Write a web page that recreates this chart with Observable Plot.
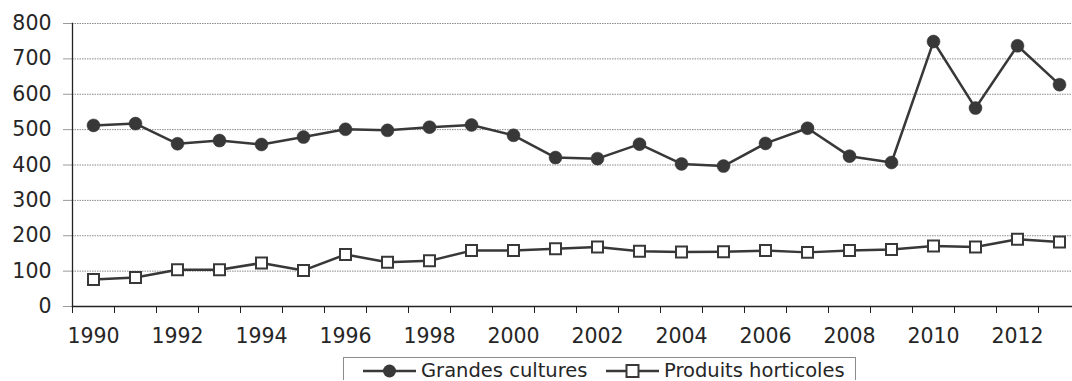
<!DOCTYPE html>
<html>
<head>
<meta charset="utf-8">
<script src="https://cdn.jsdelivr.net/npm/d3@7"></script>
<script src="https://cdn.jsdelivr.net/npm/@observablehq/plot@0.6"></script>
<style>
  html, body { margin: 0; padding: 0; background: #fff; }
  body { font-family: "DejaVu Sans", Verdana, sans-serif; color: #262626; width: 1072px; height: 381px; overflow: hidden; }
  #chart svg { display: block; }
  .legend { position: relative; margin-left: 343px; width: 513px; height: 23px; border: 1px solid #8c8c8c; border-bottom: none; font-size: 19.5px; line-height: 1; color: #262626; box-sizing: border-box; white-space: nowrap; }
  .legend .item { position: absolute; top: 3px; display: flex; align-items: center; white-space: nowrap; }
  .legend svg { display: block; flex: none; }
</style>
</head>
<body>
<div id="chart"></div>
<div class="legend" id="legend"></div>
<script>
const years = [1990,1991,1992,1993,1994,1995,1996,1997,1998,1999,2000,2001,2002,2003,2004,2005,2006,2007,2008,2009,2010,2011,2012,2013];
const grandesCultures = [512,517,460,469,458,479,501,498,507,513,484,421,418,459,403,397,461,504,425,407,749,561,737,627];
const produitsHorticoles = [76,82,104,104,123,102,147,125,129,158,158,163,168,156,154,155,158,153,158,161,171,168,190,182];
const seriesNames = ["Grandes cultures", "Produits horticoles"];
const yTicks = [0,100,200,300,400,500,600,700,800];
const xLabelYears = years.filter(y => y % 2 === 0);
const xBoundaries = years.map(y => y - 0.5);

const ink = "#383838";
const rows = [];
years.forEach((y, i) => {
  rows.push({year: y, value: grandesCultures[i], series: seriesNames[0]});
  rows.push({year: y, value: produitsHorticoles[i], series: seriesNames[1]});
});
const gc = rows.filter(d => d.series === seriesNames[0]);
const ph = rows.filter(d => d.series === seriesNames[1]);

const chart = Plot.plot({
  width: 1072,
  height: 357,
  marginLeft: 72,
  marginRight: 0,
  marginTop: 23,
  marginBottom: 51,
  style: {fontFamily: "'DejaVu Sans', Verdana, sans-serif", fontSize: "20.5px", color: "#262626", background: "#fff"},
  x: {domain: [years[0] - 0.5, years[years.length - 1] + 0.5], range: [72, 1080]},
  y: {domain: [0, 800]},
  marks: [
    Plot.ruleY(yTicks.slice(1), {stroke: "#8a8a8a", strokeWidth: 1, strokeDasharray: "1.5,1"}),
    Plot.axisY({ticks: yTicks, tickSize: 9, tickPadding: 12, stroke: "#9a9a9a", fill: "#262626", tickFormat: d => String(d), label: null, fontSize: 20.5}),
    Plot.axisX({ticks: xBoundaries, tickSize: 7, tickFormat: () => "", stroke: "#222", label: null}),
    Plot.axisX({ticks: xLabelYears, tickSize: 0, tickPadding: 22, tickFormat: d => String(d), fill: "#262626", label: null, fontSize: 20.5}),
    Plot.frame({anchor: "left", stroke: "#222", strokeWidth: 1.3}),
    Plot.frame({anchor: "bottom", stroke: "#222", strokeWidth: 1.3}),
    Plot.line(gc, {x: "year", y: "value", stroke: ink, strokeWidth: 2.5}),
    Plot.line(ph, {x: "year", y: "value", stroke: ink, strokeWidth: 2.5}),
    Plot.dot(gc, {x: "year", y: "value", r: 6.5, fill: ink, stroke: ink, strokeWidth: 0.5, symbol: "circle"}),
    Plot.dot(ph, {x: "year", y: "value", r: 6.2, fill: "#fff", stroke: ink, strokeWidth: 2, symbol: "square"})
  ]
});
document.getElementById("chart").appendChild(chart);

// Legend
const legend = document.getElementById("legend");
function symbolSvg(kind) {
  const ns = "http://www.w3.org/2000/svg";
  const s = document.createElementNS(ns, "svg");
  s.setAttribute("width", 53); s.setAttribute("height", 16);
  const l = document.createElementNS(ns, "line");
  l.setAttribute("x1", 0); l.setAttribute("x2", 53); l.setAttribute("y1", 8); l.setAttribute("y2", 8);
  l.setAttribute("stroke", ink); l.setAttribute("stroke-width", 2.5);
  s.appendChild(l);
  if (kind === "circle") {
    const c = document.createElementNS(ns, "circle");
    c.setAttribute("cx", 26.5); c.setAttribute("cy", 8); c.setAttribute("r", 6.5);
    c.setAttribute("fill", ink);
    s.appendChild(c);
  } else {
    const r = document.createElementNS(ns, "rect");
    r.setAttribute("x", 20.5); r.setAttribute("y", 2); r.setAttribute("width", 12); r.setAttribute("height", 12);
    r.setAttribute("fill", "#fff"); r.setAttribute("stroke", ink); r.setAttribute("stroke-width", 2);
    s.appendChild(r);
  }
  return s;
}
const items = [[seriesNames[0], "circle"], [seriesNames[1], "square"]];
const itemLeft = [19, 262];
items.forEach(([name, kind], i) => {
  const it = document.createElement("div");
  it.className = "item";
  it.style.left = itemLeft[i] + "px";
  it.appendChild(symbolSvg(kind));
  const t = document.createElement("span");
  t.textContent = name;
  t.style.marginLeft = "5px";
  it.appendChild(t);
  legend.appendChild(it);
});
</script>
</body>
</html>
